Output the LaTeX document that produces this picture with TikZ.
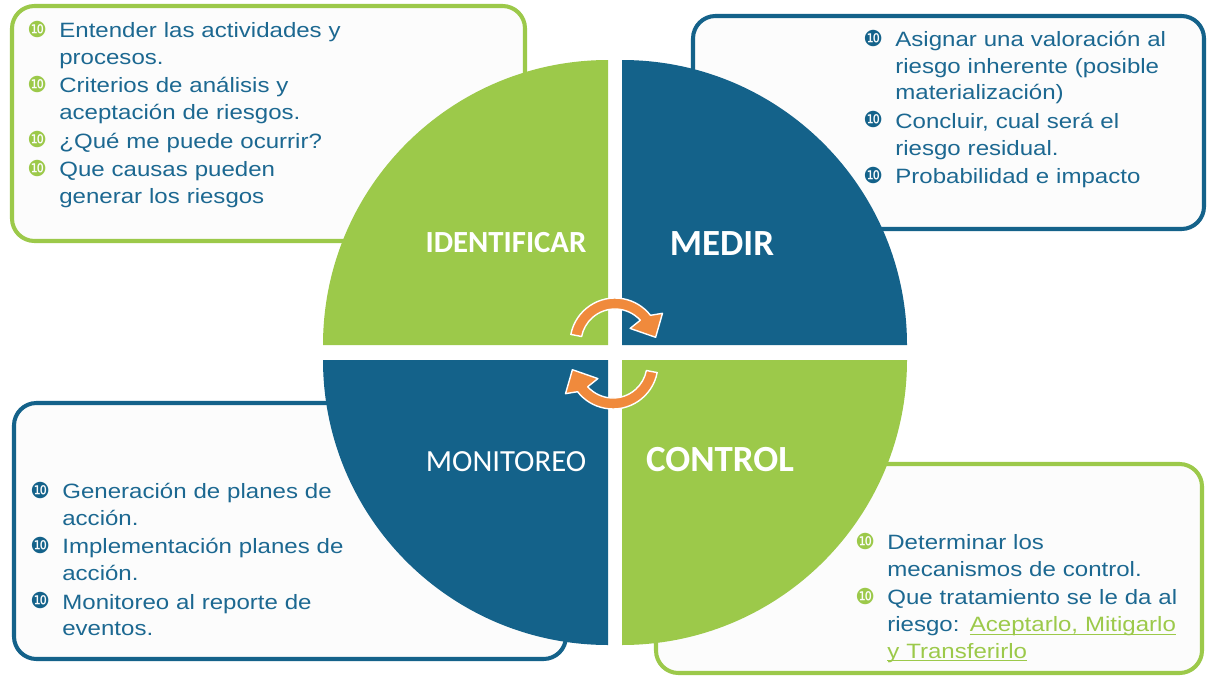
\documentclass[tikz,border=0pt]{standalone}
\usepackage{fontspec}
\setmainfont{Liberation Sans}[FakeStretch=1.16]
\newfontfamily\quadfont{Carlito}
\newfontfamily\dingfont{DejaVu Sans}
\usetikzlibrary{calc}
\definecolor{riskgreen}{HTML}{9CC94A}
\definecolor{riskblue}{HTML}{14628A}
\definecolor{risktext}{HTML}{1C6891}
\definecolor{turnorange}{HTML}{F08A3C}
\definecolor{paper}{HTML}{FCFCFC}
\tikzstyle{greenbox}=[draw=riskgreen, fill=paper, line width=2.3pt, rounded corners=0.45cm]
\tikzstyle{bluebox}=[draw=riskblue, fill=paper, line width=2.3pt, rounded corners=0.45cm]
\tikzstyle{itemlist}=[anchor=north west, inner sep=0pt, text width=7.5cm, align=left, text=risktext, font=\fontsize{11.8}{15.1}\selectfont]
\tikzstyle{quadlabel}=[text=white, inner sep=0pt]
\tikzstyle{cyclearrow}=[fill=turnorange, draw=white, line width=0.8pt, line join=round]
\newcommand{\bul}[1]{\makebox[0.64cm][l]{\raisebox{0.3pt}{\dingfont\fontsize{12.5}{12.5}\selectfont\color{#1}❿}}}
\newcommand{\itm}[2]{\noindent\hangindent=0.64cm\hangafter=1\strut\bul{#1}#2\strut\par\vspace{0.04cm}}
\newcommand{\uln}[1]{\textcolor{riskgreen}{\underline{\smash{#1}}}}
\newcommand{\quadrant}[4]{
	\fill[#1] #2 -- #3 arc[start angle=#4, end angle=#4+90, radius=285] -- cycle;
}
% centre, start angle, end angle of the band
\newcommand{\turnarrow}[3]{
	\filldraw[cyclearrow] ($#1+(#2:45)$) arc[start angle=#2, end angle=#3, radius=45]
		-- ($#1+(#3+6:56)$) -- ($#1+(#3+30:41)$) -- ($#1+(#3-6:21)$) -- ($#1+(#3-4:34)$)
		arc[start angle=#3-4, end angle=#2, radius=34] -- cycle;
}
\begin{document}
\begin{tikzpicture}[x=0.02cm, y=-0.02cm]
	\useasboundingbox[fill=white] (0,0) rectangle (1207,676);
%
	\draw[greenbox] (12,6) rectangle (525,241);
	\draw[bluebox] (693,16) rectangle (1204,229);
	\draw[bluebox] (14,403) rectangle (566,659);
	\draw[greenbox] (656,464) rectangle (1202,673);
%
	\quadrant{riskgreen}{(608,345)}{(323,345)}{180}
	\quadrant{riskblue}{(622,345)}{(622,60)}{270}
	\quadrant{riskgreen}{(622,360)}{(907,360)}{0}
	\quadrant{riskblue}{(608,360)}{(608,645)}{90}
%
	\coordinate (upturn) at (615,343);
	\coordinate (downturn) at (613,364);
	\turnarrow{(upturn)}{191}{322}
	\turnarrow{(downturn)}{11}{142}
%
	\node[quadlabel, font=\quadfont\bfseries\fontsize{17.5}{17.5}\selectfont] (identlabel) at (506,243) {IDENTIFICAR};
	\node[quadlabel, font=\quadfont\bfseries\fontsize{21}{21}\selectfont] (medirlabel) at (722,244) {MEDIR};
	\node[quadlabel, font=\quadfont\fontsize{17.5}{17.5}\selectfont] (monilabel) at (506,462) {MONITOREO};
	\node[quadlabel, font=\quadfont\bfseries\fontsize{21}{21}\selectfont] (controllabel) at (720,460) {CONTROL};
%
	\node[itemlist] (identtext) at (27,19) {%
		\itm{riskgreen}{Entender las actividades y\newline procesos.}
		\itm{riskgreen}{Criterios de análisis y\newline aceptación de riesgos.}
		\itm{riskgreen}{¿Qué me puede ocurrir?}
		\itm{riskgreen}{Que causas pueden\newline generar los riesgos}};
	\node[itemlist] (medirtext) at (863,28) {%
		\itm{riskblue}{Asignar una valoración al\newline riesgo inherente (posible\newline materialización)}
		\itm{riskblue}{Concluir, cual será el\newline riesgo residual.}
		\itm{riskblue}{Probabilidad e impacto}};
	\node[itemlist] (monitext) at (30,480) {%
		\itm{riskblue}{Generación de planes de\newline acción.}
		\itm{riskblue}{Implementación planes de\newline acción.}
		\itm{riskblue}{Monitoreo al reporte de\newline eventos.}};
	\node[itemlist] (controltext) at (855,531) {%
		\itm{riskgreen}{Determinar los\newline mecanismos de control.}
		\itm{riskgreen}{Que tratamiento se le da al\newline riesgo: \uln{Aceptarlo, Mitigarlo}\newline\uln{y Transferirlo}}};
\end{tikzpicture}
\end{document}
